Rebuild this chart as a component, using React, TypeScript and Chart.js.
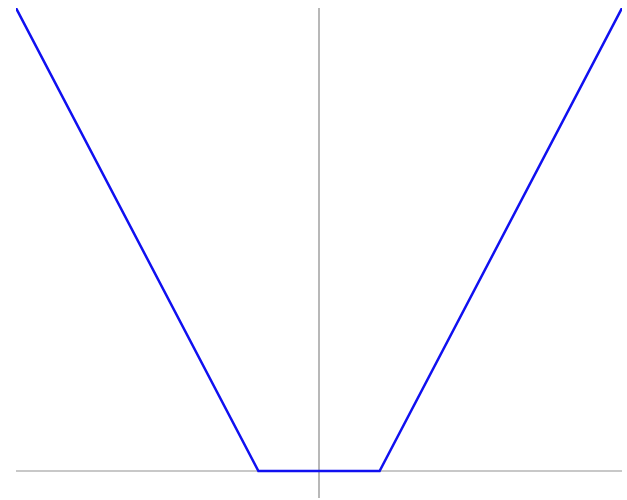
import React, { useEffect, useRef } from "react";
import { Chart, registerables } from "chart.js";

Chart.register(...registerables);

const xValues = [-5, -1, 1, 5];
const yValues = [4, 0, 0, 4];
const xRange = [-5, 5];
const yRange = [-0.233, 4];

export default function App() {
  const ref = useRef<HTMLCanvasElement | null>(null);
  useEffect(() => {
    document.body.style.margin = "0";
    const ctx = ref.current!;
    const zeroOnly = (scale: any) => {
      scale.ticks = [{ value: 0 }];
    };
    const chart = new Chart(ctx, {
      type: "scatter",
      data: {
        datasets: [
          {
            data: xValues.map((x, i) => ({ x, y: yValues[i] })),
            showLine: true,
            borderColor: "#1010f0",
            borderWidth: 2.5,
            pointRadius: 0,
            fill: false,
          },
        ],
      },
      options: {
        animation: false,
        responsive: false,
        maintainAspectRatio: false,
        layout: { padding: { left: 16, right: 5, top: 8, bottom: 2 } },
        plugins: { legend: { display: false }, tooltip: { enabled: false } },
        scales: {
          x: {
            type: "linear",
            min: xRange[0],
            max: xRange[1],
            afterBuildTicks: zeroOnly,
            ticks: { display: false },
            border: { display: false },
            grid: { color: "#b8b8b8", lineWidth: 2, drawTicks: false },
          },
          y: {
            type: "linear",
            min: yRange[0],
            max: yRange[1],
            afterBuildTicks: zeroOnly,
            ticks: { display: false },
            border: { display: false },
            grid: { color: "#c8c8c8", lineWidth: 2, drawTicks: false },
          },
        },
      },
    });
    return () => chart.destroy();
  }, []);
  return (
    <div style={{ position: "absolute", left: 0, top: 0, width: 627, height: 500 }}>
      <canvas ref={ref} width={627} height={500} />
    </div>
  );
}
